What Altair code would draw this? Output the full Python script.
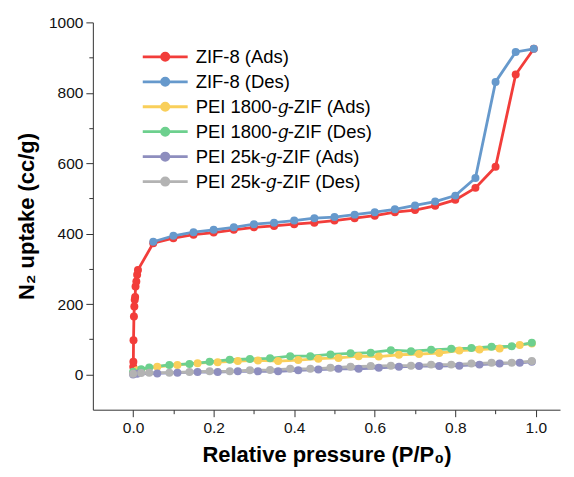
import altair as alt
import pandas as pd

series_names = [
    "ZIF-8 (Ads)",
    "ZIF-8 (Des)",
    "PEI 1800-𝑔-ZIF (Ads)",
    "PEI 1800-𝑔-ZIF (Des)",
    "PEI 25k-𝑔-ZIF (Ads)",
    "PEI 25k-𝑔-ZIF (Des)",
]
series_colors = ["#F23D3A", "#6699CC", "#F9CF5A", "#6DD08E", "#8E8EBE", "#B3B3B3"]

zif_ads_x = [0.0003, 0.0006, 0.001, 0.002, 0.003, 0.004, 0.005, 0.006, 0.008, 0.01, 0.012,
             0.05, 0.1, 0.15, 0.2, 0.25, 0.3, 0.35, 0.4, 0.45, 0.5, 0.55, 0.6, 0.65, 0.7,
             0.75, 0.8, 0.85, 0.9, 0.95, 0.995]
zif_ads_y = [22, 36, 97, 165, 193, 212, 220, 250, 264, 283, 297,
             373, 387, 397, 403, 411, 418, 422, 427, 431, 437, 444, 451, 461, 467,
             479, 496, 530, 590, 852, 925]

zif_des_x = [0.05, 0.1, 0.15, 0.2, 0.25, 0.3, 0.35, 0.4, 0.45, 0.5, 0.55, 0.6, 0.65,
             0.7, 0.75, 0.8, 0.85, 0.9, 0.95, 0.995]
zif_des_y = [377, 394, 404, 411, 418, 427, 431, 437, 444, 447, 454, 461, 469,
             480, 491, 508, 558, 831, 916, 925]

ads_x = [0.0, 0.01, 0.06, 0.11, 0.16, 0.21, 0.26, 0.31, 0.36, 0.41, 0.46, 0.51, 0.56,
         0.61, 0.66, 0.71, 0.76, 0.81, 0.86, 0.91, 0.96, 0.99]
des_x = [0.0, 0.02, 0.04, 0.09, 0.14, 0.19, 0.24, 0.29, 0.34, 0.39, 0.44, 0.49, 0.54,
         0.59, 0.64, 0.69, 0.74, 0.79, 0.84, 0.89, 0.94, 0.99]

pei1800_ads_y = [3, 12, 22, 27, 32, 35, 38, 40, 38, 41, 45, 47, 52, 51, 56, 58, 61, 68, 71, 74, 84, 88]
pei1800_des_y = [8, 15, 20, 27, 30, 36, 42, 44, 46, 52, 52, 57, 60, 62, 69, 66, 70, 73, 75, 79, 80, 90]
pei25k_ads_y = [0, 2, 3, 5, 7, 7, 9, 9, 9, 12, 14, 16, 16, 19, 22, 24, 24, 25, 28, 31, 33, 36]
pei25k_des_y = [2, 4, 5, 5, 7, 9, 9, 12, 13, 16, 16, 19, 22, 24, 25, 25, 28, 28, 31, 33, 33, 38]

x_ticks = [0.0, 0.1, 0.2, 0.3, 0.4, 0.5, 0.6, 0.7, 0.8, 0.9, 1.0]
y_ticks = [0, 100, 200, 300, 400, 500, 600, 700, 800, 900, 1000]

series_data = [
    (zif_ads_x, zif_ads_y),
    (zif_des_x, zif_des_y),
    (ads_x, pei1800_ads_y),
    (des_x, pei1800_des_y),
    (ads_x, pei25k_ads_y),
    (des_x, pei25k_des_y),
]

rows = []
for k, (name, (xs, ys)) in enumerate(zip(series_names, series_data)):
    for i, (xv, yv) in enumerate(zip(xs, ys)):
        rows.append({"series": name, "order": k, "idx": i, "p": xv, "v": yv})
df = pd.DataFrame(rows)

FONT = "Liberation Sans"
AXIS_COLOR = "#333333"

x_enc = alt.X(
    "p:Q",
    scale=alt.Scale(domain=[-0.1, 1.06], nice=False, zero=False),
    axis=alt.Axis(
        title="Relative pressure (P/P₀)",
        values=x_ticks,
        labelExpr="round(datum.value*10) % 2 == 0 ? format(datum.value, '.1f') : ''",
        tickSize={"condition": {"test": "round(datum.value*10) % 2 == 0", "value": 7}, "value": 4},
        grid=False,
        labelFontSize=15.5,
        labelFont=FONT,
        labelColor="#111111",
        labelPadding=4,
        titleFont=FONT,
        titleFontSize=22,
        titleFontWeight="bold",
        titleColor="#000000",
        titlePadding=8,
        domainColor=AXIS_COLOR,
        tickColor=AXIS_COLOR,
    ),
)
y_enc = alt.Y(
    "v:Q",
    scale=alt.Scale(domain=[-100, 1000], nice=False, zero=False),
    axis=alt.Axis(
        title="N₂ uptake (cc/g)",
        values=y_ticks,
        labelExpr="datum.value % 200 == 0 ? format(datum.value, 'd') : ''",
        tickSize={"condition": {"test": "datum.value % 200 == 0", "value": 7}, "value": 4},
        grid=False,
        labelFontSize=15.5,
        labelFont=FONT,
        labelColor="#111111",
        labelPadding=3,
        titleFont=FONT,
        titleFontSize=22,
        titleFontWeight="bold",
        titleColor="#000000",
        titlePadding=10,
        domainColor=AXIS_COLOR,
        tickColor=AXIS_COLOR,
    ),
)

color_scale = alt.Scale(domain=series_names, range=series_colors)

legend = alt.Legend(
    title=None,
    orient="none",
    legendX=62,
    legendY=24,
    labelFont=FONT,
    labelFontSize=18.5,
    labelColor="#000000",
    labelLimit=400,
    symbolType="M-2.5,0L2.5,0M0.4,0A0.4,0.4,0,1,1,-0.4,0A0.4,0.4,0,1,1,0.4,0Z",
    symbolSize=324,
    symbolStrokeWidth=2.8,
    labelOffset=20,
    rowPadding=5,
)

lines = alt.Chart(df).mark_line(strokeWidth=2.8).encode(
    x=x_enc,
    y=y_enc,
    stroke=alt.Stroke("series:N", scale=color_scale, legend=legend),
    detail="series:N",
    order="idx:Q",
)

points = alt.Chart(df).mark_point(filled=True, size=64, opacity=1, strokeWidth=0).encode(
    x=x_enc,
    y=y_enc,
    fill=alt.Fill("series:N", scale=color_scale, legend=legend),
    stroke=alt.Stroke("series:N", scale=color_scale, legend=legend),
    order="order:Q",
)

chart = alt.layer(lines, points).properties(
    width=468,
    height=388,
    autosize="none",
    padding={"left": 85, "top": 14, "right": 6, "bottom": 59},
).configure_view(stroke=None).configure_axis(domainWidth=1, tickWidth=1)

chart.save("out.html", embed_options={"renderer": "svg", "actions": False})
